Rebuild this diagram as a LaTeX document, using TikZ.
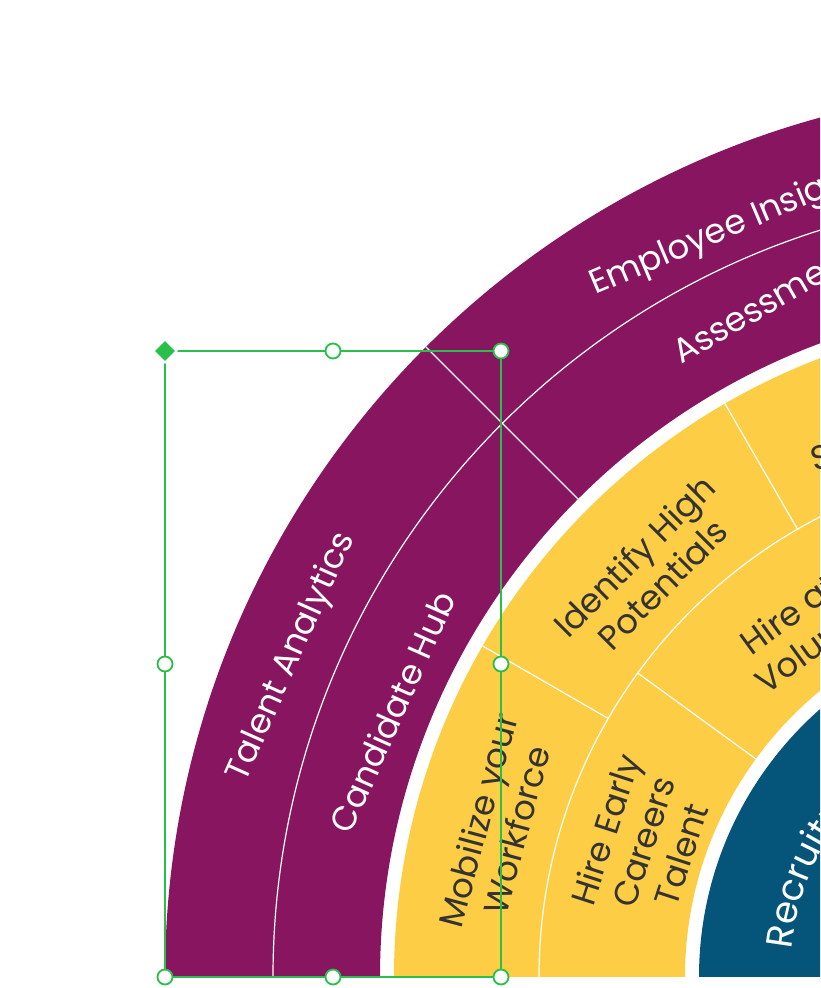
\documentclass[tikz,border=0pt]{standalone}
\usepackage{fontspec}
\setmainfont{Poppins}
\usetikzlibrary{calc,shapes.geometric,decorations.text}
\definecolor{plum}{RGB}{136,21,95}
\definecolor{gold}{RGB}{253,205,69}
\definecolor{navy}{RGB}{5,84,122}
\definecolor{ink}{RGB}{51,51,51}
\definecolor{selgreen}{RGB}{40,192,74}
\begin{document}
\begin{tikzpicture}[x=1pt,y=1pt,
  lbl/.style={font=\fontsize{34}{40}\selectfont, inner sep=0pt, align=center},
  wlbl/.style={lbl, text=white},
  dlbl/.style={lbl, text=ink},
  divider/.style={draw=white, line width=1.2pt},
  selbox/.style={draw=selgreen, line width=1.8pt},
  handle/.style={circle, draw=selgreen, fill=white, line width=1.8pt, minimum size=15pt, inner sep=0pt},
  anchorhandle/.style={diamond, fill=selgreen, draw=white, line width=2pt, minimum size=24pt, inner sep=0pt}]
\useasboundingbox (0,0) rectangle (820,988);
\fill[white] (0,0) rectangle (820,988);
\coordinate (C) at (1056,11);
\begin{scope}
\clip (0,11) rectangle (820,988);
\fill[plum, even odd rule] (C) circle[radius=891pt] (C) circle[radius=676pt];
\fill[gold, even odd rule] (C) circle[radius=662pt] (C) circle[radius=371pt];
\fill[navy] (C) circle[radius=357pt];
\draw[divider] (C) circle[radius=783pt];
\draw[divider] (C) circle[radius=517pt];
\draw[divider] ($(C)+(135:676pt)$) -- ($(C)+(135:891pt)$);
\draw[divider] ($(C)+(150:517pt)$) -- ($(C)+(150:662pt)$);
\draw[divider] ($(C)+(120:517pt)$) -- ($(C)+(120:662pt)$);
\draw[divider] ($(C)+(144:371pt)$) -- ($(C)+(144:517pt)$);
\draw[divider] ($(C)+(108:371pt)$) -- ($(C)+(108:517pt)$);
% labels
\node[wlbl, rotate=66] (ta) at (292,331) {Talent Analytics};
\node[wlbl, rotate=66] (ch) at (392,276) {Candidate Hub};
\node[wlbl, rotate=23, anchor=base west] (ei) at (595,693) {Employee Insights};
\node[wlbl, rotate=30, anchor=base west] (as) at (681,623) {Assessments};
\node[dlbl, rotate=75] (mw) at (497,163) {Mobilize your\\Workforce};
\node[dlbl, rotate=45] (ih) at (648,418) {Identify High\\Potentials};
\node[dlbl, rotate=15, anchor=base west] (sp) at (814,516) {Succession Planning};
\node[dlbl, rotate=72] (he) at (643,146) {Hire Early\\Careers\\Talent};
\node[dlbl, rotate=36] (hv) at (800,358) {Hire at\\Volume};
\path[decorate, decoration={text along path, text={|\fontsize{37}{44}\selectfont|Recruitment}, text color=white, text align=left}]
  ($(C)+(174:266pt)$) arc[start angle=174, end angle=90, radius=266pt];
\end{scope}
% selection overlay
\draw[selbox] (165,11) rectangle (501,637);
\node[handle] (hT) at (333,637) {};
\node[handle] (hTR) at (501,637) {};
\node[handle] (hL) at (165,324) {};
\node[handle] (hR) at (501,324) {};
\node[handle] (hBL) at (165,11) {};
\node[handle] (hB) at (333,11) {};
\node[handle] (hBR) at (501,11) {};
\node[anchorhandle] (hTL) at (165,637) {};
\end{tikzpicture}
\end{document}
